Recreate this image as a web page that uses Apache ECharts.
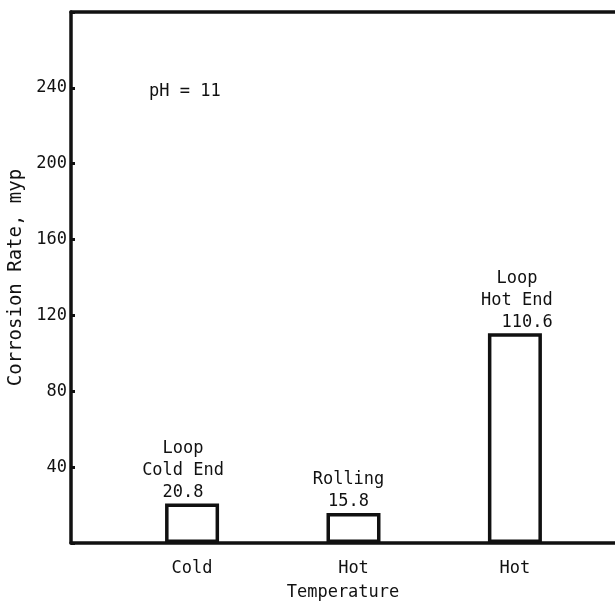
<!DOCTYPE html>
<html>
<head>
<meta charset="utf-8">
<script src="https://cdn.jsdelivr.net/npm/echarts@6/dist/echarts.min.js"></script>
<style>
  html, body { margin: 0; padding: 0; background: #fff; }
  #chart { width: 615px; height: 605px; }
</style>
</head>
<body>
<div id="chart"></div>
<script>
// Corrosion rate at pH 11 for three test conditions
const categories = ['Cold', 'Hot', 'Hot'];
const positions = [1, 2, 3];
const rates = [20.8, 15.8, 110.6];
const barTitles = ['Loop\nCold End', 'Rolling', 'Loop\nHot End'];
const valuePad = ['', '', '  '];
const labelShift = [-9, -5, 2];
const yTickLabels = [40, 80, 120, 160, 200, 240];

const FONT = 'DejaVu Sans Mono';
const INK = '#111';

const chart = echarts.init(document.getElementById('chart'), null, { renderer: 'canvas' });

const barData = positions.map((p, i) => ({
  value: [p, rates[i]],
  label: { offset: [labelShift[i], 0] }
}));

chart.setOption({
  animation: false,
  backgroundColor: '#fff',
  textStyle: { fontFamily: FONT, color: INK },
  grid: { left: 71, right: 0, top: 12, bottom: 62, outerBoundsMode: 'none', containLabel: false },
  xAxis: [
    {
      type: 'value',
      min: 0.25,
      max: 3.62,
      interval: 0.25,
      splitLine: { show: false },
      axisTick: { show: false },
      axisLine: { show: true, lineStyle: { color: INK, width: 3.5 } },
      axisLabel: {
        margin: 17,
        fontFamily: FONT,
        fontSize: 17,
        color: INK,
        formatter: v => {
          const k = positions.indexOf(Math.round(v * 100) / 100);
          return k >= 0 ? categories[k] : '';
        }
      },
      name: 'Temperature',
      nameLocation: 'middle',
      nameGap: 41,
      nameTextStyle: { fontFamily: FONT, fontSize: 17, color: INK }
    },
    {
      type: 'value',
      position: 'top',
      min: 0.25,
      max: 3.62,
      splitLine: { show: false },
      axisTick: { show: false },
      axisLabel: { show: false },
      axisLine: { show: true, lineStyle: { color: INK, width: 3.5 } }
    }
  ],
  yAxis: {
    type: 'value',
    min: 0,
    max: 280,
    interval: 40,
    splitLine: { show: false },
    axisLine: { show: true, lineStyle: { color: INK, width: 3.5 } },
    axisTick: { show: true, inside: true, length: 4, lineStyle: { color: INK, width: 3 } },
    axisLabel: {
      margin: 4,
      fontFamily: FONT,
      fontSize: 17,
      color: INK,
      formatter: v => (yTickLabels.indexOf(v) >= 0 ? String(v) : '')
    },
    name: 'Corrosion Rate, myp',
    nameLocation: 'middle',
    nameGap: 42,
    nameRotate: 90,
    nameTextStyle: { fontFamily: FONT, fontSize: 19, color: INK }
  },
  graphic: [
    {
      type: 'text',
      left: 149,
      top: 83,
      style: { text: 'pH = 11', font: '17px "DejaVu Sans Mono"', fill: INK }
    }
  ],
  series: [
    {
      type: 'bar',
      xAxisIndex: 0,
      barWidth: 54,
      data: barData,
      itemStyle: { color: '#fff', borderColor: INK, borderWidth: 3.5 },
      label: {
        show: true,
        position: 'top',
        distance: 0,
        fontFamily: FONT,
        fontSize: 17,
        lineHeight: 22,
        color: INK,
        align: 'center',
        formatter: p => barTitles[p.dataIndex] + '\n' + valuePad[p.dataIndex] + p.value[1].toFixed(1)
      }
    }
  ]
});
</script>
</body>
</html>
